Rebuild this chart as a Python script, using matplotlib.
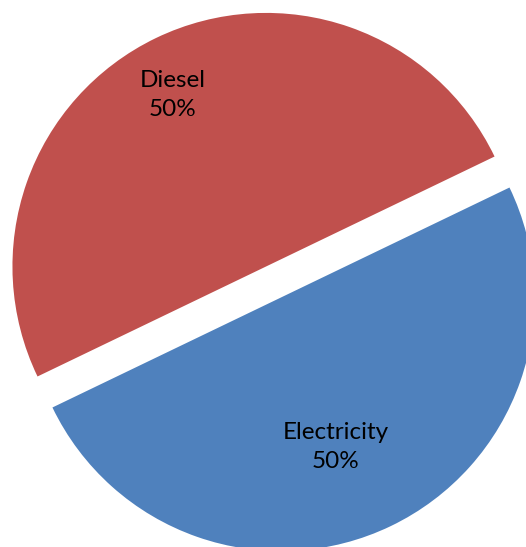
import matplotlib.pyplot as plt

# chart data
categories = ['Electricity', 'Diesel']
shares = [50, 50]
colors = ['#4F81BD', '#C0504D']

# layout, in pixel coords of the 526x547 picture (y downwards)
W, H = 526, 547
CENTER = (273.5, 282.0)
RADIUS = 253.6
START = 205.7
EXPLODE = 17.2   # matplotlib uses data units for explode offset
LABEL_POS = {'Electricity': (335.5, 447), 'Diesel': (172.5, 95)}

plt.rcParams['font.family'] = ['Lato', 'DejaVu Sans']

fig = plt.figure(figsize=(W / 100, H / 100), dpi=100)
ax = fig.add_axes([0, 0, 1, 1])

ax.pie(shares, colors=colors, startangle=START, counterclock=True,
       explode=[EXPLODE] * len(shares), radius=RADIUS,
       center=(CENTER[0], H - CENTER[1]), frame=True,
       wedgeprops=dict(linewidth=0))

for cat, val in zip(categories, shares):
    x, y = LABEL_POS[cat]
    ax.text(x, H - y, f'{cat}\n{val}%', ha='center', va='center',
            fontsize=17.5, color='black', linespacing=1.5)

ax.set_xlim(0, W)
ax.set_ylim(0, H)
ax.set_aspect('equal')
ax.axis('off')

fig.savefig('out.png', dpi=100)
